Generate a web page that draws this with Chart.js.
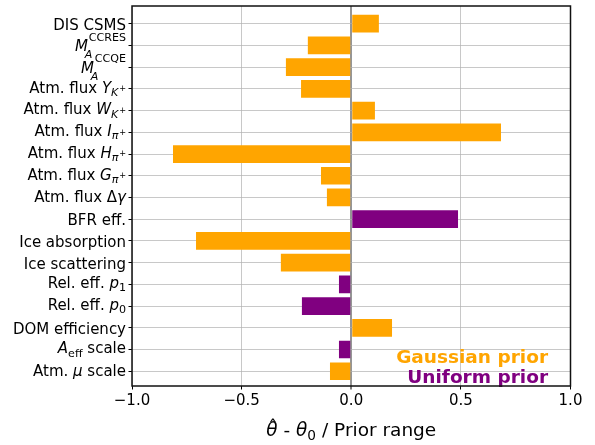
<!DOCTYPE html>
<html><head><meta charset="utf-8">
<script src="https://cdn.jsdelivr.net/npm/chart.js@4"></script>
<style>html,body{margin:0;padding:0;background:#fff;}#wrap{width:595px;height:445px;}</style>
</head><body><div id="wrap"><canvas id="c" width="595" height="445"></canvas></div>
<script>
// ---- data ----
const categories = ['DIS CSMS', '$M_A^{\\mathrm{CCRES}}$', '$M_A^{\\mathrm{CCQE}}$',
  'Atm. flux $Y_{K^+}$', 'Atm. flux $W_{K^+}$', 'Atm. flux $I_{π^+}$', 'Atm. flux $H_{π^+}$',
  'Atm. flux $G_{π^+}$', 'Atm. flux $Δγ$', 'BFR eff.', 'Ice absorption', 'Ice scattering',
  'Rel. eff. $p_1$', 'Rel. eff. $p_0$', 'DOM efficiency', '$A_{\\mathrm{eff}}$ scale', 'Atm. $μ$ scale'];
const pulls = [0.126, -0.198, -0.298, -0.229, 0.108, 0.683, -0.813, -0.138, -0.111, 0.487,
  -0.708, -0.321, -0.056, -0.225, 0.186, -0.056, -0.097];
const priorTypes = ['gauss', 'gauss', 'gauss', 'gauss', 'gauss', 'gauss', 'gauss', 'gauss', 'gauss',
  'uniform', 'gauss', 'gauss', 'uniform', 'uniform', 'gauss', 'uniform', 'gauss'];
const xTicks = [-1.0, -0.5, 0.0, 0.5, 1.0];
const xTitle = '$\\hat{θ}$ - $θ_0$ / Prior range';
const legendLabels = ['Gaussian prior', 'Uniform prior'];
const priorColors = { gauss: '#FFA500', uniform: '#800080' };

// ---- mini mathtext ----
const FAM = '"DejaVu Sans"';
const SHRINK = 0.74;
function fontStr(size, italic, bold) { return (italic ? 'italic ' : '') + (bold ? 'bold ' : '') + size + 'px ' + FAM; }
function parseMath(s) {
  let i = 0;
  function atom() {
    const c = s[i];
    if (c === '{') { i++; const g = seq('}'); i++; return { t: 'group', items: g }; }
    if (c === '\\') {
      const m = /^\\([a-zA-Z]+)/.exec(s.slice(i)); i += m[0].length;
      if (m[1] === 'mathrm') { i++; const j = s.indexOf('}', i); const txt = s.slice(i, j); i = j + 1; return { t: 'text', txt, italic: false }; }
      if (m[1] === 'hat') { const b = atom(); return { t: 'hat', base: b }; }
    }
    i++;
    return { t: 'text', txt: c, italic: /[a-zA-Zα-ω]/.test(c) };
  }
  function seq(stop) {
    const items = [];
    while (i < s.length && s[i] !== stop) {
      let b = atom(); let sub = null, sup = null;
      while (s[i] === '_' || s[i] === '^') { const op = s[i]; i++; const a = atom(); if (op === '_') sub = a; else sup = a; }
      if (sub || sup) b = { t: 'script', base: b, sub, sup };
      items.push(b);
    }
    return items;
  }
  return seq(null);
}
function parseLabel(str) {
  const parts = str.split('$'); const nodes = [];
  parts.forEach((p, k) => {
    if (!p) return;
    if (k % 2 === 0) nodes.push({ t: 'text', txt: p, italic: false });
    else nodes.push(...parseMath(p));
  });
  return { nodes, math: parts.length > 1 };
}
function lay(ctx, node, x, y, size, out, bold) {
  if (node.t === 'text') {
    ctx.font = fontStr(size, node.italic, bold);
    const w = ctx.measureText(node.txt).width;
    out.push({ txt: node.txt, font: ctx.font, x, y, size, align: 'left' });
    return w;
  }
  if (node.t === 'group') { let w = 0; for (const n of node.items) w += lay(ctx, n, x + w, y, size, out, bold); return w; }
  if (node.t === 'hat') {
    const w = lay(ctx, node.base, x, y, size, out, bold);
    out.push({ txt: 'ˆ', font: fontStr(size, false, bold), x: x + w / 2 + size * 0.05, y: y - 0.17 * size, size, align: 'center', noBox: true });
    return w;
  }
  if (node.t === 'script') {
    const wb = lay(ctx, node.base, x, y, size, out, bold);
    const ss = size * SHRINK; const both = node.sub && node.sup;
    const supX = both ? size * 0.05 : (node.base.italic ? size * 0.07 : 0);
    const subX = both ? -size * 0.22 : 0;
    let ws = 0, wp = 0;
    if (node.sup) wp = lay(ctx, node.sup, x + wb + supX, y - (both ? 0.69 : 0.42) * size, ss, out, bold);
    if (node.sub) ws = lay(ctx, node.sub, x + wb + subX, y + (both ? 0.5 : 0.22) * size, ss, out, bold);
    return wb + Math.max(ws + subX, wp + supX);
  }
  return 0;
}
function glyphBox(g) {
  let asc = 0.73, desc = 0;
  if (/^[acemnorsuvwxzγμπ]+$/.test(g.txt)) asc = 0.55;
  if (/[pqgjyγμ]/.test(g.txt)) desc = 0.15;
  if (g.txt === '+') asc = 0.6;
  return { top: -g.y + asc * g.size, bottom: g.y + desc * g.size };
}
function drawRich(ctx, str, anchorX, tickY, size, align, color, plainDy, fixedBaseline) {
  const { nodes, math } = parseLabel(str);
  const out = []; let w = 0;
  for (const n of nodes) w += lay(ctx, n, w, 0, size, out, false);
  let dy;
  if (fixedBaseline) dy = 0;
  else if (math) {
    let top = 0, bottom = 0;
    out.forEach(g => { if (g.noBox) return; const b = glyphBox(g); top = Math.max(top, b.top); bottom = Math.max(bottom, b.bottom); });
    dy = (top - bottom) / 2;
  } else dy = plainDy;
  const x0 = align === 'right' ? anchorX - w : align === 'center' ? anchorX - w / 2 : anchorX;
  ctx.save(); ctx.fillStyle = color; ctx.textBaseline = 'alphabetic';
  out.forEach(g => { ctx.font = g.font; ctx.textAlign = g.align; ctx.fillText(g.txt, x0 + g.x, tickY + dy + g.y); });
  ctx.restore();
}

// ---- plugin for labels, title, legend text and frame ----
const decor = {
  id: 'decor',
  afterDraw(chart) {
    const ctx = chart.ctx; const a = chart.chartArea; const ys = chart.scales.y;
    categories.forEach((lab, i) => drawRich(ctx, lab, a.left - 6, ys.getPixelForValue(i), 15, 'right', '#000', 6, false));
    // axis title
    drawRich(ctx, xTitle, (a.left + a.right) / 2, a.bottom + 49.7, 18.5, 'center', '#000', 0, true);
    // prior legend text
    ctx.save(); ctx.font = fontStr(18.5, false, true); ctx.textAlign = 'right'; ctx.textBaseline = 'alphabetic';
    ctx.fillStyle = priorColors.gauss; ctx.fillText(legendLabels[0], a.right - 22.5, a.bottom - 23.3);
    ctx.fillStyle = priorColors.uniform; ctx.fillText(legendLabels[1], a.right - 22.5, a.bottom - 2.7);
    // frame
    ctx.strokeStyle = '#111'; ctx.lineWidth = 1.5;
    ctx.strokeRect(a.left, a.top, a.right - a.left, a.bottom - a.top);
    ctx.restore();
  }
};

new Chart(document.getElementById('c'), {
  type: 'bar',
  data: {
    datasets: [{
      data: pulls.map((v, i) => ({ x: v, y: i })),
      backgroundColor: priorTypes.map(t => priorColors[t]),
      borderWidth: 0,
      barPercentage: 0.815,
      categoryPercentage: 1.0
    }]
  },
  options: {
    indexAxis: 'y',
    responsive: false,
    animation: false,
    layout: { padding: { top: 6, right: 24.5, left: 0, bottom: 0 } },
    plugins: { legend: { display: false }, tooltip: { enabled: false } },
    scales: {
      x: {
        type: 'linear', min: -1, max: 1, z: 1, offset: false,
        afterBuildTicks: s => { s.ticks = xTicks.map(v => ({ value: v })); },
        afterFit: s => { s.height = 59; },
        ticks: {
          font: { family: 'DejaVu Sans', size: 15 }, color: '#000', padding: 3,
          callback: v => (v < 0 ? '\u2212' : '') + Math.abs(v).toFixed(1)
        },
        grid: {
          offset: false,
          color: c => (c.tick && c.tick.value === 0) ? 'rgba(115,115,115,0.75)' : 'rgba(176,176,176,0.7)',
          lineWidth: c => (c.tick && c.tick.value === 0) ? 2 : 1,
          tickColor: '#000', tickWidth: 1, tickLength: 3.5, drawTicks: true
        },
        border: { display: false }
      },
      y: {
        type: 'linear', reverse: true, min: -0.815, max: 16.68, z: 1, offset: false,
        afterBuildTicks: s => { s.ticks = categories.map((_, i) => ({ value: i })); },
        afterFit: s => { s.width = 132; },
        ticks: { display: false },
        grid: {
          offset: false, color: 'rgba(176,176,176,0.7)', lineWidth: 1,
          tickColor: '#000', tickWidth: 1, tickLength: 3.5, drawTicks: true
        },
        border: { display: false }
      }
    }
  },
  plugins: [decor]
});
</script>
</body></html>
